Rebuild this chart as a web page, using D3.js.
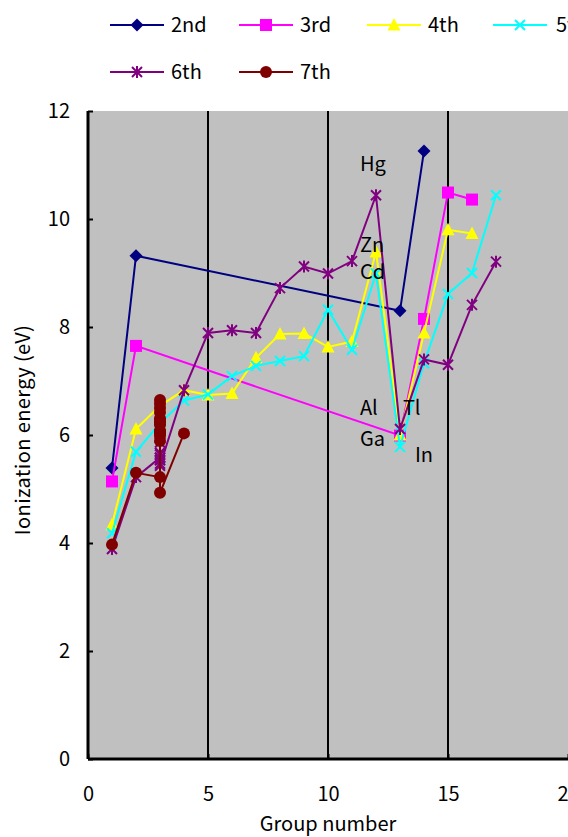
<!DOCTYPE html>
<html><head><meta charset="utf-8">
<script src="https://cdn.jsdelivr.net/npm/d3@7"></script>
<style>body{margin:0;background:#fff}svg{display:block}text{font-family:"Noto Sans CJK JP","DejaVu Sans",sans-serif}</style>
</head><body><svg id="c" width="568" height="837"></svg>
<script>
const seriesNames = ["2nd","3rd","4th","5th","6th","7th"];
const p2x = [1,2,13,14];
const p2y = [5.39,9.32,8.30,11.26];
const p3x = [1,2,13,14,15,16];
const p3y = [5.14,7.65,5.99,8.15,10.49,10.36];
const p4x = [1,2,3,4,5,6,7,8,9,10,11,12,13,14,15,16];
const p4y = [4.34,6.11,6.54,6.83,6.74,6.77,7.43,7.87,7.88,7.63,7.73,9.39,6.00,7.89,9.80,9.73];
const p5x = [1,2,3,4,5,6,7,8,9,10,11,12,13,14,15,16,17];
const p5y = [4.18,5.69,6.22,6.64,6.75,7.09,7.28,7.37,7.46,8.32,7.58,8.99,5.78,7.33,8.61,9.00,10.44];
const p6x = [1,2,3,3,3,3,3,3,3,3,3,3,3,3,3,3,3,4,5,6,7,8,9,10,11,12,13,14,15,16,17];
const p6y = [3.89,5.22,5.58,5.54,5.47,5.53,5.58,5.64,5.67,6.15,5.86,5.94,6.02,6.11,6.18,6.25,5.43,6.83,7.89,7.94,7.89,8.72,9.12,8.99,9.22,10.44,6.11,7.40,7.30,8.41,9.21];
const p7x = [1,2,3,3,3,3,3,3,3,3,3,3,3,3,3,3,3,4];
const p7y = [3.97,5.30,5.22,6.08,5.89,6.19,6.27,6.06,5.99,6.02,6.23,6.30,6.42,6.50,6.58,6.65,4.93,6.03];
const colors = ["#000080","#FF00FF","#FFFF00","#00FFFF","#800080","#800000"];
const markers = ["diamond","square","triangle","x","star","circle"];
const xTicks = [0,5,10,15,20];
const yTicks = [0,2,4,6,8,10,12];
const elemLabels = [["Hg",11.33,10.89],["Zn",11.33,9.39],["Cd",11.33,8.89],["Al",11.33,6.37],["Tl",13.12,6.37],["Ga",11.33,5.80],["In",13.62,5.50]];

const series = [[p2x,p2y],[p3x,p3y],[p4x,p4y],[p5x,p5y],[p6x,p6y],[p7x,p7y]];
const svg = d3.select("#c");
const L=88, R=568, T=111, B=759;
const x = d3.scaleLinear().domain([0,20]).range([L,R]);
const y = d3.scaleLinear().domain([0,12]).range([B,T]);
const FS = "20px";

svg.append("rect").attr("x",L).attr("y",T).attr("width",R-L).attr("height",B-T).attr("fill","#C0C0C0");
svg.append("g").selectAll("line").data(xTicks.filter(d=>d>0&&d<20)).join("line")
  .attr("x1",d=>x(d)).attr("x2",d=>x(d)).attr("y1",T).attr("y2",B)
  .attr("stroke","#000").attr("stroke-width",2);

const yAxis = d3.axisLeft(y).tickValues(yTicks).tickSize(-5).tickPadding(18);
const gy = svg.append("g").attr("transform",`translate(${L},0)`).call(yAxis);
const xAxis = d3.axisBottom(x).tickValues(xTicks).tickSize(-5).tickPadding(28);
const gx = svg.append("g").attr("transform",`translate(0,${B})`).call(xAxis);
[gy,gx].forEach(g=>{
  g.select(".domain").attr("stroke","#000").attr("stroke-width",3);
  g.selectAll(".tick line").attr("stroke","#000").attr("stroke-width",2);
  g.selectAll(".tick text").attr("fill","#000").style("font-size",FS).style("font-family",'"Noto Sans CJK JP",sans-serif');
});
gy.select(".domain").attr("d",`M0,${T}V${B}`);
gx.select(".domain").attr("d",`M${L},0H${R}`);

svg.append("text").attr("x",328).attr("y",831).attr("text-anchor","middle").style("font-size",FS).text("Group number");
svg.append("text").attr("transform","translate(30,430) rotate(-90)").attr("text-anchor","middle")
  .style("font-size","20px").style("letter-spacing","0.4px").text("Ionization energy (eV)");

function drawMarker(g, type, color, cx, cy){
  if(type==="diamond"){
    g.append("path").attr("d",`M${cx},${cy-6.5}L${cx+6.5},${cy}L${cx},${cy+6.5}L${cx-6.5},${cy}Z`).attr("fill",color);
  } else if(type==="square"){
    g.append("rect").attr("x",cx-6).attr("y",cy-6).attr("width",12).attr("height",12).attr("fill",color);
  } else if(type==="triangle"){
    g.append("path").attr("d",`M${cx},${cy-7}L${cx+6.5},${cy+5.5}L${cx-6.5},${cy+5.5}Z`).attr("fill",color);
  } else if(type==="x"){
    g.append("path").attr("d",`M${cx-5},${cy-5}L${cx+5},${cy+5}M${cx-5},${cy+5}L${cx+5},${cy-5}`).attr("stroke",color).attr("stroke-width",2);
  } else if(type==="star"){
    g.append("path").attr("d",`M${cx-5},${cy-5}L${cx+5},${cy+5}M${cx-5},${cy+5}L${cx+5},${cy-5}M${cx},${cy-6}L${cx},${cy+6}`).attr("stroke",color).attr("stroke-width",2);
  } else {
    g.append("circle").attr("cx",cx).attr("cy",cy).attr("r",6).attr("fill",color);
  }
}

const line = d3.line().x(d=>x(d[0])).y(d=>y(d[1]));
series.forEach((s,i)=>{
  const pts = s[0].map((v,j)=>[v,s[1][j]]);
  const g = svg.append("g");
  g.append("path").attr("d",line(pts)).attr("fill","none").attr("stroke",colors[i]).attr("stroke-width",2);
  pts.forEach(p=>drawMarker(g,markers[i],colors[i],x(p[0]),y(p[1])));
});

svg.append("g").selectAll("text").data(elemLabels).join("text")
  .attr("x",d=>x(d[1])).attr("y",d=>y(d[2])).style("font-size",FS).attr("fill","#000").text(d=>d[0]);

const legPos = [[110,25],[239,25],[367,25],[493,25],[110,72],[239,72]];
legPos.forEach((p,i)=>{
  const g = svg.append("g");
  g.append("line").attr("x1",p[0]).attr("x2",p[0]+54).attr("y1",p[1]).attr("y2",p[1]).attr("stroke",colors[i]).attr("stroke-width",2);
  drawMarker(g,markers[i],colors[i],p[0]+27,p[1]);
  g.append("text").attr("x",p[0]+(i===3?63:61)).attr("y",p[1]+7).style("font-size",FS).text(seriesNames[i]);
});
</script></body></html>
